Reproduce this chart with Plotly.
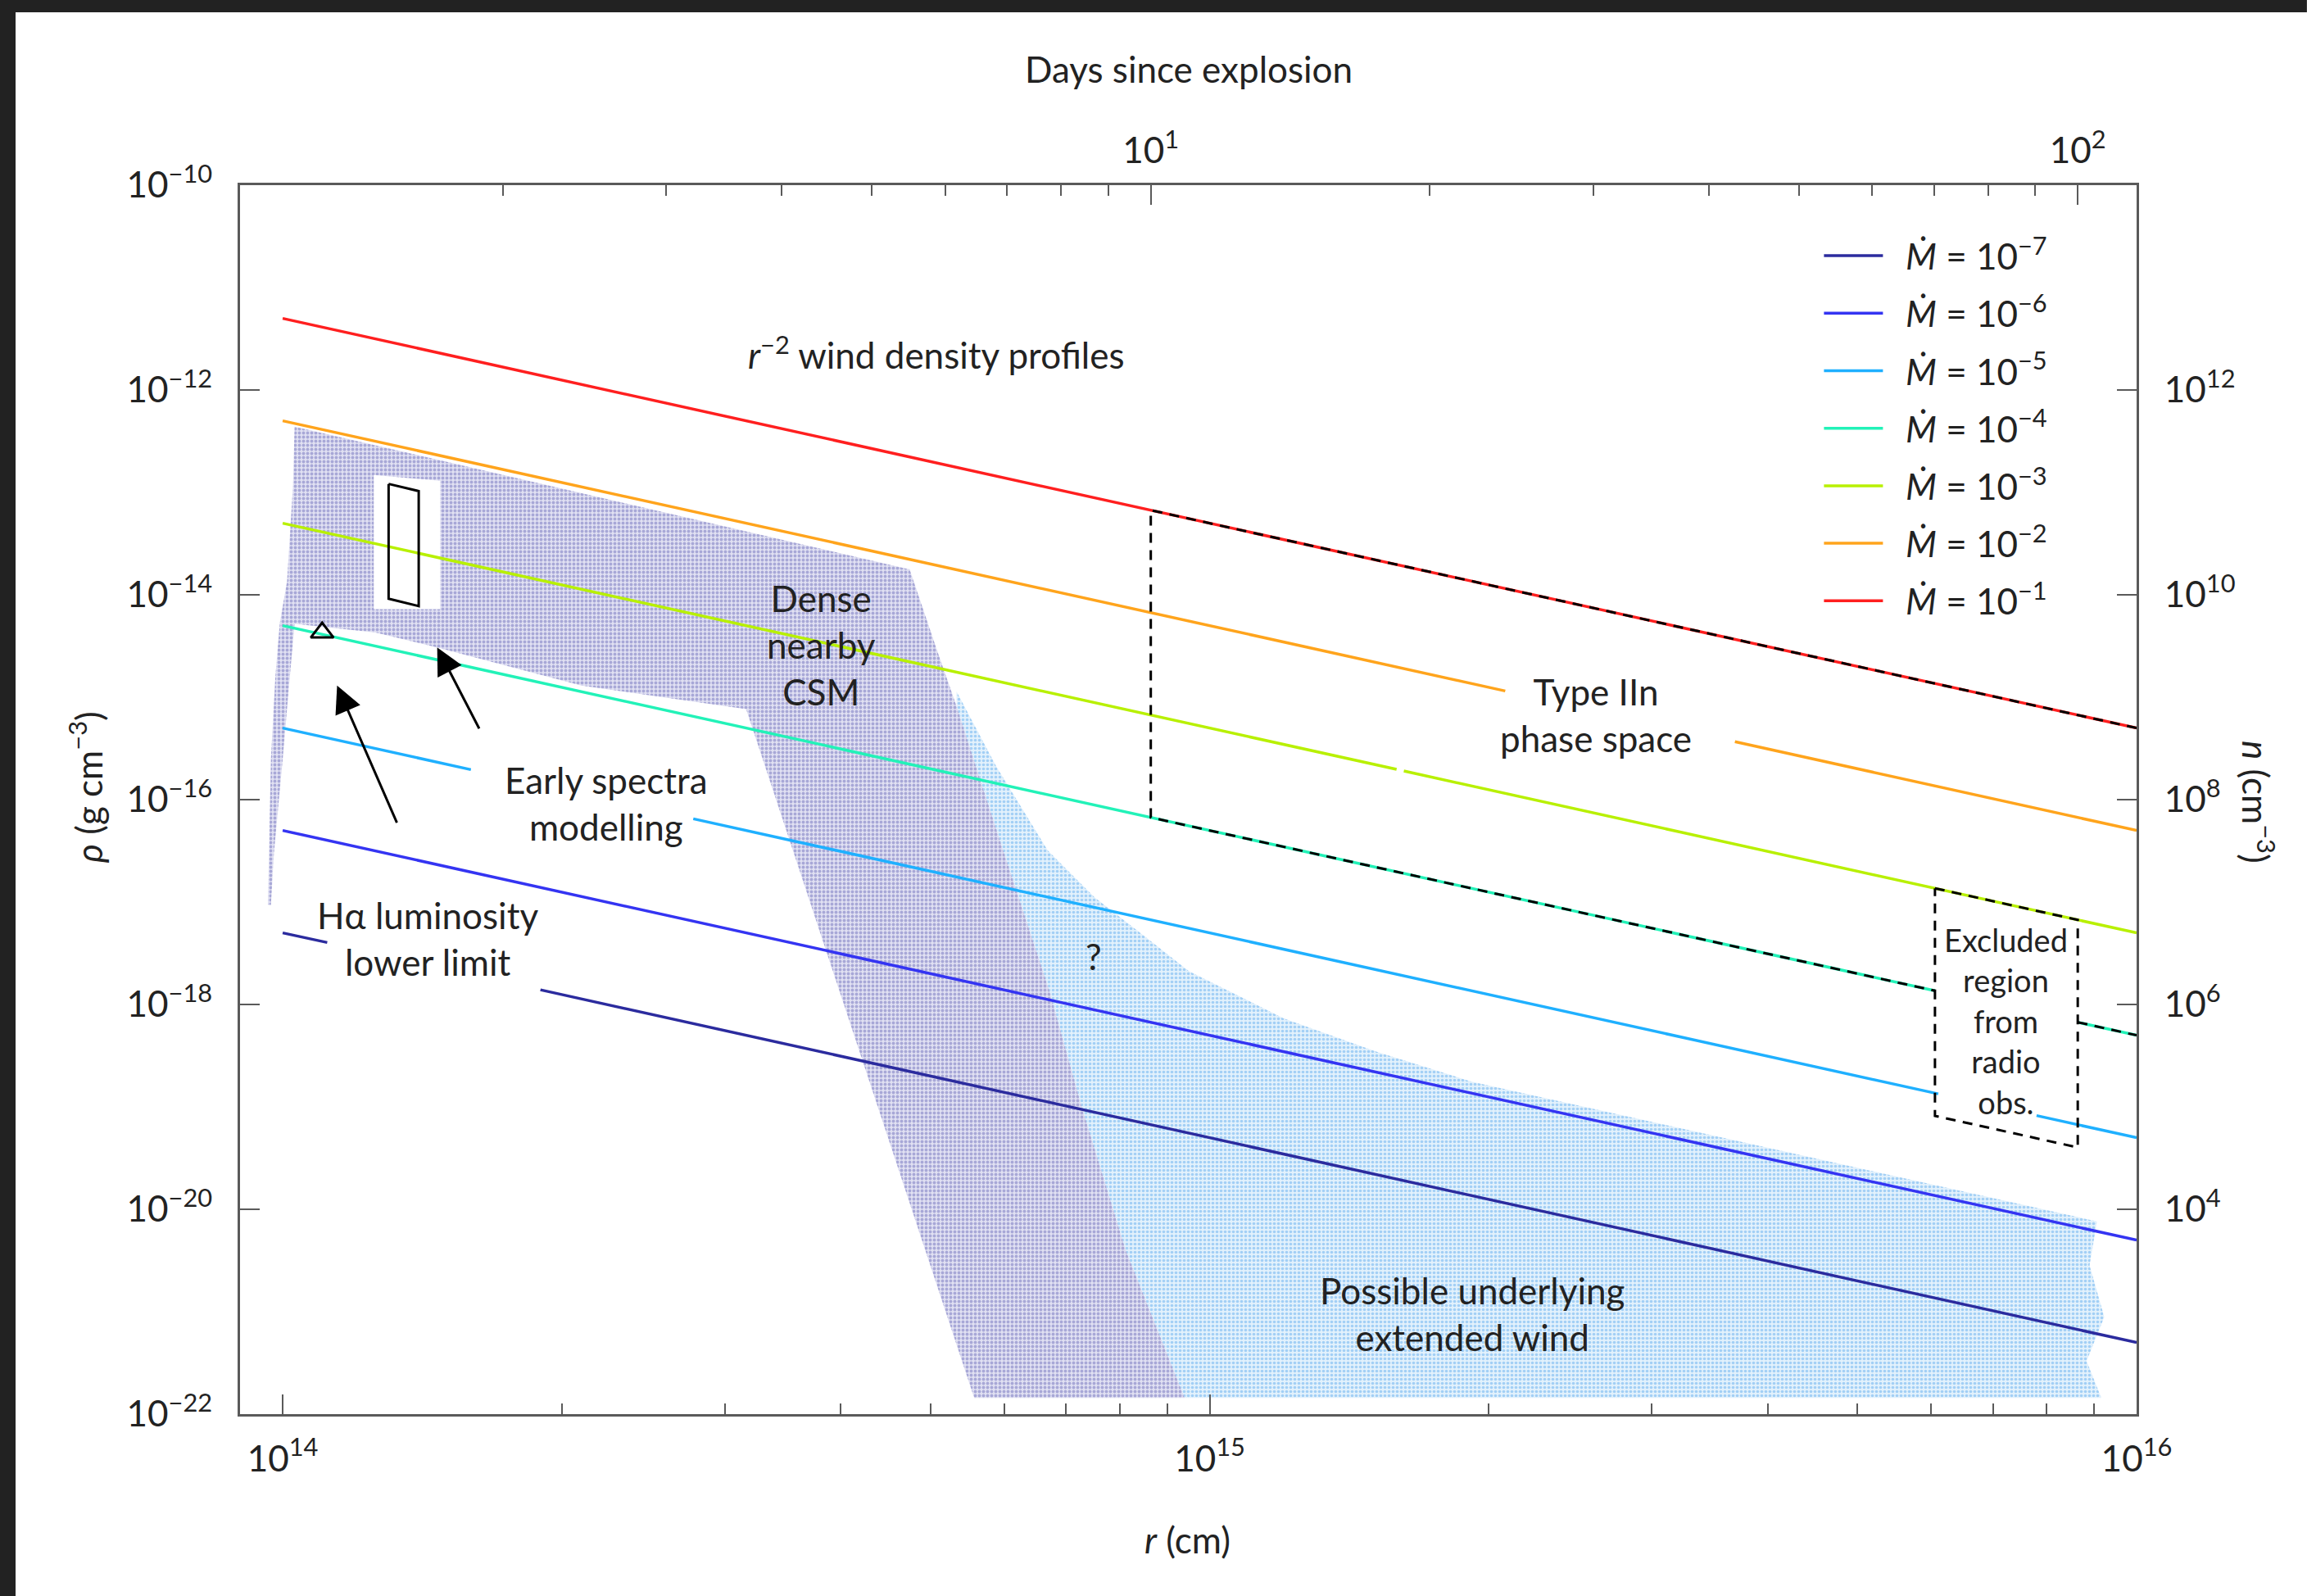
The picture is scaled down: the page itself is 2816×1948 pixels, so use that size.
import math
import plotly.graph_objects as go

# ---------------- data ----------------
MDOT_NAMES = ["<i>Ṁ</i> = 10<sup>−7</sup>", "<i>Ṁ</i> = 10<sup>−6</sup>", "<i>Ṁ</i> = 10<sup>−5</sup>",
              "<i>Ṁ</i> = 10<sup>−4</sup>", "<i>Ṁ</i> = 10<sup>−3</sup>", "<i>Ṁ</i> = 10<sup>−2</sup>",
              "<i>Ṁ</i> = 10<sup>−1</sup>"]
MDOT_COLORS = ["#2b2b9e", "#3434f2", "#1fb0ff", "#22f2b8", "#b8f000", "#ffa41c", "#ff1f1f"]

# r^-2 wind density profiles (r in cm, rho in g cm^-3); None = gap left for a label
R_M7 = [1.0e14, 1.117e14, None, 1.897e14, 1.0e16]
RHO_M7 = [5.0e-18, 4.03e-18, None, 1.39e-18, 5.0e-22]
R_M6 = [1.0e14, 1.0e16]
RHO_M6 = [5.0e-17, 5.0e-21]
R_M5 = [1.0e14, 1.596e14, None, 2.773e14, 6.11e15, None, 7.80e15, 1.0e16]
RHO_M5 = [5.0e-16, 1.963e-16, None, 6.50e-17, 1.339e-19, None, 8.22e-20, 5.0e-20]
R_M4 = [1.0e14, 6.06e15, None, 8.64e15, 1.0e16]
RHO_M4 = [5.0e-15, 1.362e-18, None, 6.70e-19, 5.0e-19]
R_M3 = [1.0e14, 1.591e15, None, 1.620e15, 1.0e16]
RHO_M3 = [5.0e-14, 1.975e-16, None, 1.905e-16, 5.0e-18]
R_M2 = [1.0e14, 2.084e15, None, 3.687e15, 1.0e16]
RHO_M2 = [5.0e-13, 1.151e-15, None, 3.68e-16, 5.0e-17]
R_M1 = [1.0e14, 1.0e16]
RHO_M1 = [5.0e-12, 5.0e-16]

# Type IIn phase space (dashed outline)
IIN_R_A = [1.0e16, 8.64e14, 8.64e14, 6.06e15]
IIN_RHO_A = [5.0e-16, 6.70e-14, 6.70e-17, 1.362e-18]
IIN_R_B = [8.64e15, 1.0e16]
IIN_RHO_B = [6.70e-19, 5.0e-19]

# Excluded region from radio observations (dashed box)
EXC_R = [6.06e15, 8.64e15, 8.64e15, 6.06e15, 6.06e15]
EXC_RHO = [1.362e-17, 6.70e-18, 4.02e-20, 8.17e-20, 1.362e-17]

# Dense nearby CSM (purple speckled region)
CSM_R = [1.030e14, 4.746e14, 5.068e14, 5.333e14, 5.952e14, 6.714e14, 7.276e14, 8.121e14, 9.397e14,
         5.572e14, 3.162e14, 2.100e14, 1.468e14, 1.259e14, 1.030e14, 1.0146e14, 1.000e14, 9.784e13,
         9.712e13, 9.640e13, 9.712e13, 9.820e13, 9.927e13, 1.011e14, 1.026e14]
CSM_RHO = [4.395e-13, 1.774e-14, 3.069e-15, 8.166e-16, 3.767e-17, 1.377e-18, 1.007e-19, 3.936e-21, 1.436e-22,
           1.436e-22, 7.656e-16, 1.300e-15, 3.069e-15, 4.276e-15, 5.212e-15, 1.138e-15, 2.483e-16, 2.985e-17,
           9.376e-18, 9.376e-18, 2.483e-16, 1.585e-15, 5.212e-15, 1.361e-14, 1.169e-13]
# white cut-out around the early-spectra box
HOLE_R = [1.254e14, 1.479e14, 1.479e14, 1.254e14]
HOLE_RHO = [1.476e-13, 1.30e-13, 7.26e-15, 7.26e-15]

# Possible underlying extended wind (light-blue speckled region)
WIND_R = [5.333e14, 5.886e14, 6.689e14, 7.518e14, 8.453e14, 9.502e14, 1.2005e15, 1.517e15, 1.917e15,
          9.060e15, 8.898e15, 9.228e15, 8.831e15, 9.161e15, 9.397e14, 8.121e14, 7.276e14, 6.714e14,
          5.952e14, 5.333e14]
WIND_RHO = [1.138e-15, 2.104e-16, 3.192e-17, 1.107e-17, 4.842e-18, 2.113e-18, 7.345e-19, 3.428e-19, 1.766e-19,
            7.621e-21, 2.825e-21, 8.872e-22, 3.289e-22, 1.436e-22, 1.436e-22, 3.936e-21, 1.007e-19, 1.377e-18,
            3.767e-17, 8.166e-16]

# Early spectra modelling box and H-alpha lower limit marker
SPEC_R = [1.301e14, 1.402e14, 1.402e14, 1.301e14, 1.301e14]
SPEC_RHO = [1.21e-13, 1.03e-13, 7.76e-15, 9.16e-15, 1.21e-13]
HA_R = [1.103e14]
HA_RHO = [4.28e-15]

# axes
R_RANGE_LOG = [13.954, 16.0]
RHO_RANGE_LOG = [-22.0, -10.0]
V_EJ = 1.0e9          # cm/s, converts r to days
M_P = 1.0e-24         # g, converts rho to n
R_TICKS = [1e14, 1e15, 1e16]
R_TICKTEXT = ["10<sup>14</sup>", "10<sup>15</sup>", "10<sup>16</sup>"]
R_MINOR = [2e14, 3e14, 4e14, 5e14, 6e14, 7e14, 8e14, 9e14, 2e15, 3e15, 4e15, 5e15, 6e15, 7e15, 8e15, 9e15]
RHO_TICKS = [1e-22, 1e-20, 1e-18, 1e-16, 1e-14, 1e-12, 1e-10]
RHO_TICKTEXT = ["10<sup>−22</sup>", "10<sup>−20</sup>", "10<sup>−18</sup>", "10<sup>−16</sup>",
                "10<sup>−14</sup>", "10<sup>−12</sup>", "10<sup>−10</sup>"]
DAY_TICKS = [10, 100]
DAY_TICKTEXT = ["10<sup>1</sup>", "10<sup>2</sup>"]
DAY_MINOR = [2, 3, 4, 5, 6, 7, 8, 9, 20, 30, 40, 50, 60, 70, 80, 90]
N_TICKS = [1e4, 1e6, 1e8, 1e10, 1e12]
N_TICKTEXT = ["10<sup>4</sup>", "10<sup>6</sup>", "10<sup>8</sup>", "10<sup>10</sup>", "10<sup>12</sup>"]

# ---------------- figure ----------------
FONT = "Lato, 'Noto Sans', sans-serif"
TXT = "#222222"
AX = "#5a5a5a"

fig = go.Figure()

fig.add_trace(go.Scatter(x=WIND_R, y=WIND_RHO, mode="none", fill="toself", showlegend=False,
                         hoverinfo="skip", fillcolor="#e2f1fc",
                         fillpattern=dict(shape=".", fgcolor="#62aeee", bgcolor="#e2f1fc",
                                          size=5, solidity=0.42)))
fig.add_trace(go.Scatter(x=CSM_R, y=CSM_RHO, mode="none", fill="toself", showlegend=False,
                         hoverinfo="skip", fillcolor="#e0e0f2",
                         fillpattern=dict(shape=".", fgcolor="#7070bc", bgcolor="#e0e0f2",
                                          size=5, solidity=0.45)))
fig.add_trace(go.Scatter(x=HOLE_R, y=HOLE_RHO, mode="none", fill="toself", fillcolor="white",
                         showlegend=False, hoverinfo="skip"))

series = [(R_M7, RHO_M7), (R_M6, RHO_M6), (R_M5, RHO_M5), (R_M4, RHO_M4),
          (R_M3, RHO_M3), (R_M2, RHO_M2), (R_M1, RHO_M1)]
for i, (rr, dd) in enumerate(series):
    fig.add_trace(go.Scatter(x=rr, y=dd, mode="lines", name="\u00a0\u00a0" + MDOT_NAMES[i],
                             line=dict(color=MDOT_COLORS[i], width=3.5),
                             legendgroup=f"g{i}", connectgaps=False))

dash_line = dict(color="black", width=3, dash="12px,9px")
for xx, yy in [(IIN_R_A, IIN_RHO_A), (IIN_R_B, IIN_RHO_B), (EXC_R, EXC_RHO)]:
    fig.add_trace(go.Scatter(x=xx, y=yy, mode="lines", line=dash_line, showlegend=False, hoverinfo="skip"))

fig.add_trace(go.Scatter(x=SPEC_R, y=SPEC_RHO, mode="lines", line=dict(color="black", width=3),
                         showlegend=False))
fig.add_trace(go.Scatter(x=HA_R, y=HA_RHO, mode="markers", showlegend=False,
                         marker=dict(symbol="triangle-up-open", size=24, color="black",
                                     line=dict(width=3, color="black"))))

# invisible trace to activate the secondary (days / number density) axes
fig.add_trace(go.Scatter(x=[10], y=[1e8], xaxis="x2", yaxis="y2", mode="markers",
                         marker=dict(opacity=0), showlegend=False, hoverinfo="skip"))

common = dict(showgrid=False, zeroline=False, showline=True, linecolor=AX, linewidth=3,
              ticks="inside", tickwidth=2, tickcolor=AX, ticklen=24,
              tickfont=dict(family=FONT, size=44, color=TXT))
minor_common = dict(ticks="inside", ticklen=13, tickwidth=2, tickcolor=AX, showgrid=False)

day_off = math.log10(V_EJ * 86400.0)
n_off = math.log10(M_P)

fig.update_layout(
    width=2816, height=1948,
    margin=dict(l=293, r=208, t=226, b=222, autoexpand=False),
    paper_bgcolor="white", plot_bgcolor="white",
    font=dict(family=FONT, size=44, color=TXT),
    xaxis=dict(type="log", range=R_RANGE_LOG, tickvals=R_TICKS, ticktext=R_TICKTEXT,
               minor=dict(tickvals=R_MINOR, **minor_common), ticklabelstandoff=14, **common),
    xaxis2=dict(type="log", overlaying="x", side="top", anchor="y",
                range=[R_RANGE_LOG[0] - day_off, R_RANGE_LOG[1] - day_off],
                tickvals=DAY_TICKS, ticktext=DAY_TICKTEXT,
                minor=dict(tickvals=DAY_MINOR, **minor_common), ticklabelstandoff=6, **common),
    yaxis=dict(type="log", range=RHO_RANGE_LOG, tickvals=RHO_TICKS, ticktext=RHO_TICKTEXT,
               ticklabelstandoff=22, **common),
    yaxis2=dict(type="log", overlaying="y", side="right", anchor="x",
                range=[RHO_RANGE_LOG[0] - n_off, RHO_RANGE_LOG[1] - n_off],
                tickvals=N_TICKS, ticktext=N_TICKTEXT, ticklabelstandoff=22, **common),
    legend=dict(x=0.833, y=0.966, xanchor="left", yanchor="top", bgcolor="rgba(0,0,0,0)",
                font=dict(family=FONT, size=44, color=TXT), tracegroupgap=10,
                itemwidth=72, traceorder="grouped"),
    showlegend=True,
)

def ann(text, lx, ly, size=44, **kw):
    fig.add_annotation(x=lx, y=ly, xref="x", yref="y", text=text, showarrow=False,
                       font=dict(family=FONT, size=size, color=TXT), align="center", **kw)

ann("<i>r</i><sup>−2</sup> wind density profiles", 14.705, -11.638)
ann("Dense<br>nearby<br>CSM", 14.581, -14.484)
ann("Early spectra<br>modelling", 14.349, -16.036)
ann("Hα luminosity<br>lower limit", 14.156, -17.358)
ann("Type IIn<br>phase space", 15.417, -15.174)
ann("Excluded<br>region<br>from<br>radio<br>obs.", 15.859, -18.163, size=38)
ann("?", 14.875, -17.531)
ann("Possible underlying<br>extended wind", 15.283, -21.023)

# arrows (head at x,y ; tail at ax,ay)
for hx, hy, tx, ty in [(14.0587, -14.886, 14.1238, -16.2375), (14.1667, -14.513, 14.2127, -15.318)]:
    fig.add_annotation(x=hx, y=hy, ax=tx, ay=ty, xref="x", yref="y", axref="x", ayref="y",
                       text="", showarrow=True, arrowhead=2, arrowsize=2.2, arrowwidth=3,
                       arrowcolor="black", standoff=0, startstandoff=0)

# axis titles
def pann(text, x, y, angle=0):
    fig.add_annotation(x=x, y=y, xref="paper", yref="paper", text=text, showarrow=False,
                       textangle=angle, font=dict(family=FONT, size=44, color=TXT),
                       xanchor="center", yanchor="middle")

pann("Days since explosion", 0.5002, 1.0944)
pann("<i>r</i> (cm)", 0.4994, -0.1017)
pann("<i>ρ</i> (g cm<sup>−3</sup>)", -0.0816, 0.51, -90)
pann("<i>n</i> (cm<sup>−3</sup>)", 1.0644, 0.498, 90)

# dark page border seen at the top and left of the reference
fig.add_shape(type="rect", xref="paper", yref="paper", x0=-0.12657, x1=-0.11836, y0=-0.148, y1=1.1507,
              fillcolor="#222222", line=dict(width=0), layer="above")
fig.add_shape(type="rect", xref="paper", yref="paper", x0=-0.12657, x1=1.0898, y0=1.14067, y1=1.1507,
              fillcolor="#222222", line=dict(width=0), layer="above")

fig.write_html("out.html")
